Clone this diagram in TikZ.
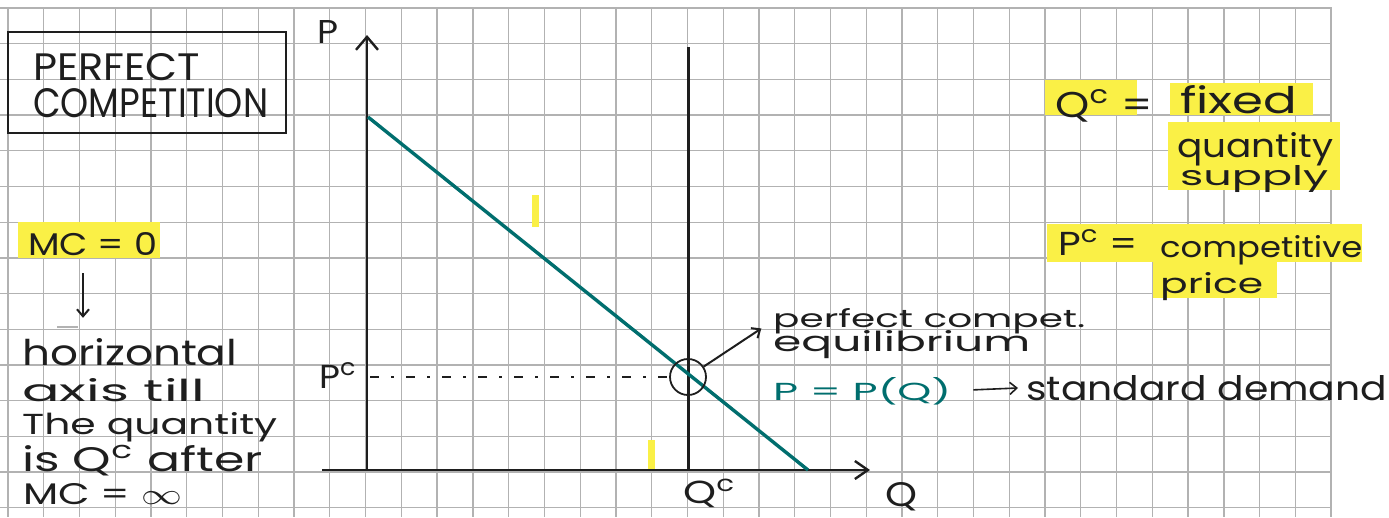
\documentclass[tikz,border=0pt]{standalone}
\usepackage{fontspec}
\setmainfont{Poppins}
\usepackage{graphicx}
\usetikzlibrary{arrows.meta,calc}
\definecolor{ink}{RGB}{30,30,30}
\definecolor{gridc}{RGB}{178,178,178}
\definecolor{hlc}{RGB}{250,240,70}
\definecolor{tealc}{RGB}{0,110,110}
\newcommand\tx[3]{\resizebox{#1pt}{#2pt}{#3}}
\begin{document}
\begin{tikzpicture}[x=1pt,y=-1pt,
  gridl/.style={draw=gridc,line width=1.3pt},
  hl/.style={fill=hlc},
  txt/.style={anchor=base west,inner sep=0pt,text=ink},
  ttxt/.style={anchor=base west,inner sep=0pt,text=tealc},
  axis/.style={draw=ink,line width=2.4pt},
  barbbig/.style={-{Straight Barb[length=13pt,width=22pt]}},
  barbsmall/.style={-{Straight Barb[length=7pt,width=12pt]}},
  demand/.style={draw=tealc,line width=3.4pt},
  pen/.style={draw=ink,line width=2pt}]
\useasboundingbox (0,0) rectangle (1389,517);
\fill[white] (0,0) rectangle (1389,517);
% grid paper
\foreach \k in {0,...,37} \draw[gridl] ({8+35.76*\k},8) -- ({8+35.76*\k},517);
\foreach \k in {0,...,14} \draw[gridl] (0,{8+35.7*\k}) -- (1332,{8+35.7*\k});
% highlights
\fill[hl] (18,222) rectangle (160,258);
\fill[hl] (1045,80) rectangle (1137,115);
\fill[hl] (1170,83) rectangle (1313,115);
\fill[hl] (1168,122) rectangle (1340,190);
\fill[hl] (1047,224) rectangle (1362,262);
\fill[hl] (1153,262) rectangle (1277,298);
\fill[hl] (532,195) rectangle (539,227);
\fill[hl] (648,440) rectangle (655,470);
% title box
\draw[ink,line width=2.6pt] (8,32) rectangle (286,133);
\node[txt] (t1) at (33,80) {\tx{167}{27}{PERFECT}};
\node[txt] (t2) at (33,117) {\tx{235}{29}{COMPETITION}};
% left notes
\node[txt] (mc) at (28,255) {\tx{129}{23}{MC = 0}};
\node[txt] (hz) at (22,365) {\tx{215}{27}{horizontal}};
\node[txt] (ax) at (22,401) {\tx{183}{23}{axis till}};
\node[txt] (tq) at (22,434) {\tx{255}{22}{The quantity}};
\node[txt] (iq) at (22,471) {\tx{241}{26}{is Q\textsuperscript{c} after}};
\node[txt] (mi) at (23,504) {\tx{159}{21}{MC = $\infty$}};
\coordinate (ax1) at (83,0);
\draw[pen,barbsmall,shorten <=18pt,shorten >=20pt] (mc.south -| ax1) -- (hz.north -| ax1);
\draw[gridc,line width=1.5pt] (57,327) -- (78,327);
% axes
\coordinate (O) at (367,470);
\coordinate (Ptop) at (367,35);
\coordinate (Qleft) at (322,470);
\coordinate (Qright) at (870,470);
\coordinate (Qctop) at (688,47);
\coordinate (Qcbot) at (688,470);
\coordinate (Dtop) at (368,117);
\coordinate (Dbot) at (808,470);
\draw[axis,barbbig] (O) -- (Ptop);
\draw[axis,-{Straight Barb[length=13pt,width=18pt]}] (Qleft) -- (Qright);
\draw[draw=ink,line width=3pt] (Qctop) -- (Qcbot);
\draw[demand] (Dtop) -- (Dbot);
\node[txt] (plab) at (317,43) {\tx{21}{23}{P}};
\node[txt] (qlab) at (885,506) {\tx{32}{24}{Q}};
\node[txt] (pc) at (319,388) {\tx{38}{25}{P\textsuperscript{c}}};
\node[txt] (qc) at (683,503) {\tx{53}{24}{Q\textsuperscript{c}}};
% equilibrium
\node[draw=ink,line width=1.8pt,circle,minimum size=36pt,inner sep=0pt] (eq) at (688,377) {};
\draw[ink,line width=1.4pt,dash pattern=on 9pt off 12pt on 3pt off 12pt] (370,377) -- (eq.west);
\node[txt] (pe1) at (773,327) {\tx{312}{19}{perfect compet.}};
\node[txt] (pe2) at (773,351) {\tx{257}{21}{equilibrium}};
\draw[pen,barbsmall,shorten >=14pt] (eq) -- (pe1.west);
\node[ttxt] (ppq) at (773,400) {\tx{178}{23}{P = P(Q)}};
\node[txt] (sd) at (1026,400) {\tx{361}{25}{standard demand}};
\draw[draw=ink,line width=1.6pt,barbsmall,shorten <=22pt,shorten >=8pt] (ppq.east) -- (sd.west);
% right notes
\node[txt] (qcd) at (1055,117) {\tx{98}{27}{Q\textsuperscript{c} =}};
\node[txt] (fx) at (1180,113) {\tx{117}{28}{fixed}};
\node[txt] (qu) at (1177,157) {\tx{156}{25}{quantity}};
\node[txt] (su) at (1180,185) {\tx{148}{20}{supply}};
\node[txt] (pcd) at (1058,255) {\tx{80}{25}{P\textsuperscript{c} =}};
\node[txt] (co) at (1160,257) {\tx{202}{22}{competitive}};
\node[txt] (pr) at (1160,293) {\tx{103}{21}{price}};
\end{tikzpicture}
\end{document}
